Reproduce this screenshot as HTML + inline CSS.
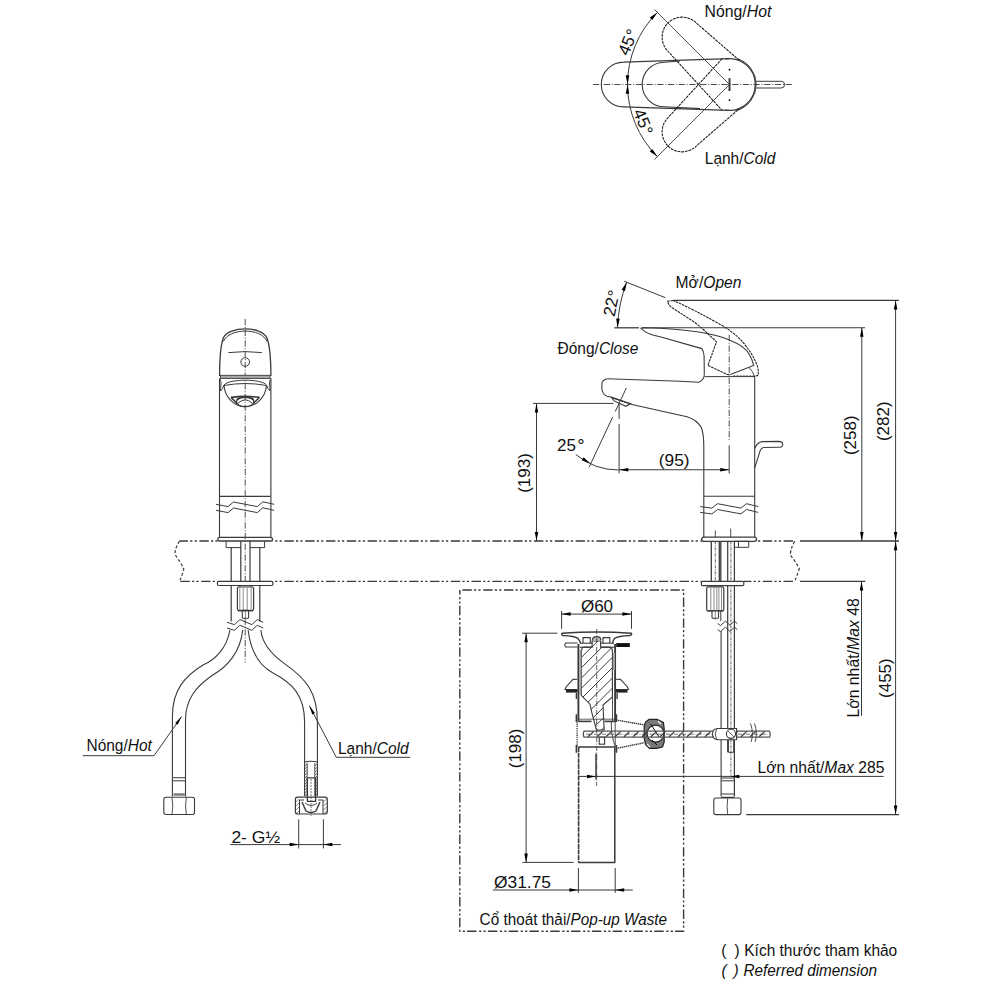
<!DOCTYPE html>
<html><head><meta charset="utf-8"><style>
html,body{margin:0;padding:0;background:#fff;}
svg{display:block;font-family:"Liberation Sans",sans-serif;}
text{fill:#111;}
</style></head><body>
<svg width="1000" height="982" viewBox="0 0 1000 982">
<line x1="593" y1="84.5" x2="792" y2="84.5" stroke="#3a3a3a" stroke-width="0.9" stroke-dasharray="6.3 1.7 1 1.7"/>
<path d="M729,58.6 L623.7,62.1 A22.3,22.3 0 0 0 623.7,106.9 L729,110.4" fill="none" stroke="#3a3a3a" stroke-width="1.1" />
<path d="M680,61 L664.5,62.2 A22.3,22.3 0 0 0 664.5,106.8 L700,108.6" fill="none" stroke="#3a3a3a" stroke-width="1.1" />
<path d="M725.5,58.9 A25.9,25.9 0 1 1 725.5,110.1" fill="none" stroke="#3a3a3a" stroke-width="1.3" />
<path d="M737,58.5 A27.2,27.2 0 0 1 737,110.5" fill="none" stroke="#3a3a3a" stroke-width="0.9" />
<path d="M739.4,60.46 L696.27,22.98 A20,20 0 0 0 667.98,51.27 L722.08,110.31" fill="none" stroke="#1a1a1a" stroke-width="1.05" stroke-dasharray="2.8 0.8" />
<path d="M722.08,58.69 L667.98,117.73 A20,20 0 0 0 696.27,146.02 L739.4,108.54" fill="none" stroke="#1a1a1a" stroke-width="1.05" stroke-dasharray="2.8 0.8" />
<line x1="729.5" y1="84.5" x2="654.5" y2="9.5" stroke="#3a3a3a" stroke-width="0.9"/>
<line x1="729.5" y1="84.5" x2="654.5" y2="159.5" stroke="#3a3a3a" stroke-width="0.9"/>
<path d="M657.38,12.38 A102.0,102.0 0 0 0 657.38,156.62" fill="none" stroke="#3a3a3a" stroke-width="1" />
<path d="M657.38,12.38 L652.28,20.01 L649.74,17.47 Z" fill="#000" stroke="none"/>
<path d="M657.38,156.62 L649.74,151.53 L652.28,148.99 Z" fill="#000" stroke="none"/>
<path d="M627.5,84.3 L625.7,75.3 L629.3,75.3 Z" fill="#000" stroke="none"/>
<path d="M627.5,84.7 L629.3,93.7 L625.7,93.7 Z" fill="#000" stroke="none"/>
<path d="M755.5,81.3 L781.2,81.3 Q784.6,81.3 784.6,84.6 Q784.6,88 781.2,88 L755.5,88" fill="none" stroke="#3a3a3a" stroke-width="1" />
<circle cx="729.5" cy="69.7" r="0.9" fill="#000"/>
<circle cx="729.5" cy="100.2" r="0.9" fill="#000"/>
<line x1="729.5" y1="78.2" x2="729.5" y2="91" stroke="#3a3a3a" stroke-width="2"/>
<text x="0" y="0" font-size="17" text-anchor="start" transform="translate(704.6 17.1) scale(0.93 1)" >Nóng/<tspan font-style="italic">Hot</tspan></text>
<text x="0" y="0" font-size="17" text-anchor="start" transform="translate(704.8 164.1) scale(0.91 1)" >Lạnh/<tspan font-style="italic">Cold</tspan></text>
<text x="628.2" y="42.2" font-size="17" text-anchor="middle" transform="rotate(-67.5 628.2 42.2)" dominant-baseline="central">45<tspan dx="0.8">°</tspan></text>
<text x="643" y="122" font-size="17" text-anchor="middle" transform="rotate(67.5 643 122)" dominant-baseline="central">45<tspan dx="0.8">°</tspan></text>
<line x1="245.2" y1="319" x2="245.2" y2="662.6" stroke="#3a3a3a" stroke-width="0.9" stroke-dasharray="6.3 1.7 1 1.7"/>
<path d="M219.6,376 C219.6,360 220.5,345 223.5,337.5 C229,326 261,326 266.8,337.5 C269.8,345 270.9,360 270.9,376" fill="none" stroke="#3a3a3a" stroke-width="1.3" />
<path d="M223.4,341.5 C229,327.6 261.5,327.6 267,341.5" fill="none" stroke="#3a3a3a" stroke-width="1" />
<path d="M228.4,352.6 Q245.2,350.6 261.9,352.6" fill="none" stroke="#3a3a3a" stroke-width="1" />
<circle cx="245.2" cy="362" r="4.3" fill="none" stroke="#3a3a3a" stroke-width="1"/>
<rect x="220.5" y="375.3" width="49.5" height="3.1" fill="#a8a8a8" stroke="#3a3a3a" stroke-width="0.9"/>
<line x1="219.5" y1="378.5" x2="219.5" y2="537.3" stroke="#3a3a3a" stroke-width="1.1"/>
<line x1="270.9" y1="378.5" x2="270.9" y2="537.3" stroke="#3a3a3a" stroke-width="1.1"/>
<path d="M219.5,378.5 Q221.5,381 221,384 L220.5,391 Q223,389 224,385 C229,378.6 261.5,378.6 266.5,385 Q267.5,389 270,391 L269.6,384 Q269.2,381 270.9,378.5" fill="none" stroke="#3a3a3a" stroke-width="1" />
<path d="M224,385.5 Q245.2,381.5 266.5,385.5" fill="none" stroke="#3a3a3a" stroke-width="1" />
<path d="M224,385.5 C225,398 235,406.7 245.2,406.7 C255.4,406.7 265.5,398 266.5,385.5" fill="none" stroke="#3a3a3a" stroke-width="1.1" />
<path d="M231,397.4 Q245.2,395.4 259.4,397.4" fill="none" stroke="#3a3a3a" stroke-width="1.6" />
<path d="M231,397.4 L237.2,403.6 M259.4,397.4 L253.2,403.6" fill="none" stroke="#3a3a3a" stroke-width="1.5" />
<ellipse cx="245.2" cy="401.7" rx="8.7" ry="5" fill="none" stroke="#3a3a3a" stroke-width="1.3"/>
<path d="M236.8,399.6 Q245.2,394.6 253.6,399.6" fill="none" stroke="#3a3a3a" stroke-width="1.7" />
<path d="M238.2,403.1 Q245.2,396.6 252.2,403.1" fill="none" stroke="#3a3a3a" stroke-width="1" />
<line x1="219.5" y1="496.3" x2="270.6" y2="496.3" stroke="#3a3a3a" stroke-width="1.2"/>
<path d="M216,504.3 L228,506.6 L233.5,502 L257.3,506.6 L262.8,501.8 L274.2,504.3" fill="none" stroke="#3a3a3a" stroke-width="1" />
<path d="M216,510.3 L228,512.6 L233.5,508 L257.3,512.6 L262.8,507.8 L274.2,510.3" fill="none" stroke="#3a3a3a" stroke-width="1" />
<path d="M219.5,537.3 L270.6,537.3 Q272.6,537.6 272.6,539.3 Q272.6,541 270.6,541 L219.5,541 Q217.7,541 217.7,539.3 Q217.7,537.6 219.5,537.3 Z" fill="none" stroke="#3a3a3a" stroke-width="1.3" />
<path d="M226.1,541 L226.1,547.6 L240.8,547.6 M250,547.6 L264.6,547.6 L264.6,541" fill="none" stroke="#3a3a3a" stroke-width="1" />
<line x1="231.2" y1="547.6" x2="231.2" y2="621.5" stroke="#3a3a3a" stroke-width="1.2"/>
<line x1="259.8" y1="547.6" x2="259.8" y2="621.5" stroke="#3a3a3a" stroke-width="1.2"/>
<line x1="240.8" y1="541" x2="240.8" y2="586.5" stroke="#3a3a3a" stroke-width="1.2"/>
<line x1="250" y1="541" x2="250" y2="586.5" stroke="#3a3a3a" stroke-width="1.2"/>
<rect x="217.4" y="581.3" width="55.5" height="4.2" rx="1.2" fill="#fff" stroke="#3a3a3a" stroke-width="1.2"/>
<rect x="237.4" y="587" width="16.2" height="23.4" rx="1.3" fill="#fff" stroke="#3a3a3a" stroke-width="1.2"/>
<line x1="239.8" y1="588" x2="239.8" y2="609.5" stroke="#3a3a3a" stroke-width="0.6"/>
<line x1="243.2" y1="588" x2="243.2" y2="609.5" stroke="#3a3a3a" stroke-width="0.6"/>
<line x1="247.2" y1="588" x2="247.2" y2="609.5" stroke="#3a3a3a" stroke-width="0.6"/>
<line x1="251.2" y1="588" x2="251.2" y2="609.5" stroke="#3a3a3a" stroke-width="0.6"/>
<path d="M239,587 L239,585.5 M252,587 L252,585.5" fill="none" stroke="#3a3a3a" stroke-width="0.8" />
<rect x="242.3" y="610.4" width="6.3" height="7.8" rx="0.8" fill="#fff" stroke="#3a3a3a" stroke-width="1.1"/>
<line x1="245.4" y1="610.4" x2="245.4" y2="618.2" stroke="#3a3a3a" stroke-width="0.6"/>
<line x1="238" y1="610.8" x2="253" y2="610.8" stroke="#3a3a3a" stroke-width="1.3"/>
<path d="M227,622.3 L234.4,624.6 L239.9,619.6 L251.8,624.6 L257.3,619.6 L263.2,622.3" fill="none" stroke="#3a3a3a" stroke-width="1" />
<path d="M227,628 L234.4,630.3 L239.9,625.3 L251.8,630.3 L257.3,625.3 L263.2,628" fill="none" stroke="#3a3a3a" stroke-width="1" />
<path d="M229.9,630 C227,648 215,660 203,665 C185,676 172.4,690 172.4,716 L172.4,796.5" fill="none" stroke="#3a3a3a" stroke-width="1.1" />
<path d="M242.7,630 C240.5,652 227,667 213.5,674.5 C195,687 185.5,700 185.5,720 L185.5,796.5" fill="none" stroke="#3a3a3a" stroke-width="1.1" />
<path d="M248.1,630 C251,654 262,667 272.6,672.8 C292,683 304.6,695 304.6,722 L304.6,762" fill="none" stroke="#3a3a3a" stroke-width="1.1" />
<path d="M260.9,630 C262,645 275,657 285.8,664.6 C306,679 317.4,692 317.4,722 L317.4,762" fill="none" stroke="#3a3a3a" stroke-width="1.1" />
<path d="M172.75,777.7 L185.5,777.7 M172.75,780.8 L185.5,780.8" fill="none" stroke="#3a3a3a" stroke-width="1" />
<rect x="173.6" y="793.3" width="11.2" height="2.4" fill="#777" stroke="none"/>
<path d="M166,797.3 L192.3,797.3 Q194.5,797.3 194.5,799.5 L194.5,812.3 Q194.5,814.5 192.3,814.5 L166,814.5 Q163.8,814.5 163.8,812.3 L163.8,799.5 Q163.8,797.3 166,797.3 Z" fill="none" stroke="#3a3a3a" stroke-width="1.1" />
<path d="M172,797.5 Q173.5,806 172,814.3 M186.3,797.5 Q184.8,806 186.3,814.3" fill="none" stroke="#3a3a3a" stroke-width="0.9" />
<path d="M304.6,762 Q311,760.6 317.4,762" fill="none" stroke="#3a3a3a" stroke-width="1.1" />
<path d="M304.6,762 L304.6,796 M317.4,762 L317.4,796" fill="none" stroke="#3a3a3a" stroke-width="1.1" />
<path d="M307.2,763 L307.2,796 M314.8,763 L314.8,796" fill="none" stroke="#3a3a3a" stroke-width="0.9" />
<line x1="304.8" y1="766" x2="307" y2="764" stroke="#3a3a3a" stroke-width="0.7"/>
<line x1="315" y1="766" x2="317.2" y2="764" stroke="#3a3a3a" stroke-width="0.7"/>
<line x1="304.8" y1="769" x2="307" y2="767" stroke="#3a3a3a" stroke-width="0.7"/>
<line x1="315" y1="769" x2="317.2" y2="767" stroke="#3a3a3a" stroke-width="0.7"/>
<line x1="304.8" y1="772" x2="307" y2="770" stroke="#3a3a3a" stroke-width="0.7"/>
<line x1="315" y1="772" x2="317.2" y2="770" stroke="#3a3a3a" stroke-width="0.7"/>
<line x1="304.8" y1="775" x2="307" y2="773" stroke="#3a3a3a" stroke-width="0.7"/>
<line x1="315" y1="775" x2="317.2" y2="773" stroke="#3a3a3a" stroke-width="0.7"/>
<line x1="304.8" y1="778" x2="307" y2="776" stroke="#3a3a3a" stroke-width="0.7"/>
<line x1="315" y1="778" x2="317.2" y2="776" stroke="#3a3a3a" stroke-width="0.7"/>
<line x1="304.8" y1="781" x2="307" y2="779" stroke="#3a3a3a" stroke-width="0.7"/>
<line x1="315" y1="781" x2="317.2" y2="779" stroke="#3a3a3a" stroke-width="0.7"/>
<line x1="304.8" y1="784" x2="307" y2="782" stroke="#3a3a3a" stroke-width="0.7"/>
<line x1="315" y1="784" x2="317.2" y2="782" stroke="#3a3a3a" stroke-width="0.7"/>
<line x1="304.8" y1="787" x2="307" y2="785" stroke="#3a3a3a" stroke-width="0.7"/>
<line x1="315" y1="787" x2="317.2" y2="785" stroke="#3a3a3a" stroke-width="0.7"/>
<line x1="304.8" y1="790" x2="307" y2="788" stroke="#3a3a3a" stroke-width="0.7"/>
<line x1="315" y1="790" x2="317.2" y2="788" stroke="#3a3a3a" stroke-width="0.7"/>
<line x1="304.8" y1="793" x2="307" y2="791" stroke="#3a3a3a" stroke-width="0.7"/>
<line x1="315" y1="793" x2="317.2" y2="791" stroke="#3a3a3a" stroke-width="0.7"/>
<line x1="304.8" y1="796" x2="307" y2="794" stroke="#3a3a3a" stroke-width="0.7"/>
<line x1="315" y1="796" x2="317.2" y2="794" stroke="#3a3a3a" stroke-width="0.7"/>
<path d="M307.4,777.8 L315.6,777.8 L315.6,801.3 L307.4,801.3 Z" fill="none" stroke="#3a3a3a" stroke-width="1.3" />
<line x1="311" y1="779" x2="311" y2="816" stroke="#3a3a3a" stroke-width="0.7" stroke-dasharray="2 1"/>
<path d="M297.5,797.2 L325,797.2 Q327.3,797.2 327.3,799.5 L327.3,811.8 Q327.3,814 325,814 L297.6,814 Q295.4,814 295.4,811.8 L295.4,799.5 Q295.4,797.2 297.5,797.2 Z" fill="none" stroke="#3a3a3a" stroke-width="1.2" />
<path d="M299.5,814 L299.5,800 L304,800 M318,800 L323,800 L323,814" fill="none" stroke="#3a3a3a" stroke-width="1" />
<path d="M302,802 L306,811 Q311,814 316,811 L320,802" fill="none" stroke="#3a3a3a" stroke-width="1.4" />
<path d="M305,803 Q311,808 317,803" fill="none" stroke="#3a3a3a" stroke-width="0.9" />
<line x1="295.8" y1="802" x2="299" y2="799" stroke="#3a3a3a" stroke-width="0.6"/>
<line x1="323.2" y1="802" x2="326.8" y2="799" stroke="#3a3a3a" stroke-width="0.6"/>
<line x1="295.8" y1="806" x2="299" y2="803" stroke="#3a3a3a" stroke-width="0.6"/>
<line x1="323.2" y1="806" x2="326.8" y2="803" stroke="#3a3a3a" stroke-width="0.6"/>
<line x1="295.8" y1="810" x2="299" y2="807" stroke="#3a3a3a" stroke-width="0.6"/>
<line x1="323.2" y1="810" x2="326.8" y2="807" stroke="#3a3a3a" stroke-width="0.6"/>
<line x1="295.8" y1="814" x2="299" y2="811" stroke="#3a3a3a" stroke-width="0.6"/>
<line x1="323.2" y1="814" x2="326.8" y2="811" stroke="#3a3a3a" stroke-width="0.6"/>
<path d="M82.75,755.7 L154,755.7 L181.6,716.6" fill="none" stroke="#3a3a3a" stroke-width="1" />
<path d="M181.6,716.6 L177.64,724.82 L175.18,723.09 Z" fill="#000" stroke="none"/>
<path d="M410.3,757.3 L336.3,757.3 L309.4,705.8" fill="none" stroke="#3a3a3a" stroke-width="1" />
<path d="M309.4,705.8 L314.9,713.08 L312.24,714.47 Z" fill="#000" stroke="none"/>
<text x="0" y="0" font-size="17" text-anchor="start" transform="translate(86.5 750.8) scale(0.91 1)" >Nóng/<tspan font-style="italic">Hot</tspan></text>
<text x="0" y="0" font-size="17" text-anchor="start" transform="translate(338 753.6) scale(0.91 1)" >Lạnh/<tspan font-style="italic">Cold</tspan></text>
<line x1="298.7" y1="819.3" x2="298.7" y2="848.5" stroke="#3a3a3a" stroke-width="1"/>
<line x1="323.4" y1="819.3" x2="323.4" y2="848.5" stroke="#3a3a3a" stroke-width="1"/>
<line x1="230.4" y1="844.6" x2="341" y2="844.6" stroke="#3a3a3a" stroke-width="1"/>
<path d="M298.7,844.6 L289.7,846.35 L289.7,842.85 Z" fill="#000" stroke="none"/>
<path d="M323.4,844.6 L332.4,842.85 L332.4,846.35 Z" fill="#000" stroke="none"/>
<text x="0" y="0" font-size="15.9" text-anchor="start" transform="translate(231.4 843) scale(1.1 1)" >2- G½</text>
<rect x="459.8" y="590" width="223.8" height="341.3" fill="none" stroke="#3a3a3a" stroke-width="1.4" stroke-dasharray="9.4 2.2 2.2 2.2 2.2 2.6" stroke-dashoffset="-2.6"/>
<line x1="561.6" y1="611" x2="561.6" y2="628.8" stroke="#3a3a3a" stroke-width="1"/>
<line x1="631.5" y1="611" x2="631.5" y2="628.8" stroke="#3a3a3a" stroke-width="1"/>
<line x1="561.6" y1="614.1" x2="631.5" y2="614.1" stroke="#3a3a3a" stroke-width="1"/>
<path d="M561.7,614.1 L570.7,612.35 L570.7,615.85 Z" fill="#000" stroke="none"/>
<path d="M631.4,614.1 L622.4,615.85 L622.4,612.35 Z" fill="#000" stroke="none"/>
<text x="597" y="611.7" font-size="17" text-anchor="middle" >Ø60</text>
<line x1="522.1" y1="633.2" x2="557.5" y2="633.2" stroke="#3a3a3a" stroke-width="1"/>
<line x1="526.1" y1="633.2" x2="526.1" y2="862.4" stroke="#3a3a3a" stroke-width="1"/>
<path d="M526.1,633.2 L527.85,642.2 L524.35,642.2 Z" fill="#000" stroke="none"/>
<path d="M526.1,862.4 L524.35,853.4 L527.85,853.4 Z" fill="#000" stroke="none"/>
<line x1="522.4" y1="862.4" x2="573.6" y2="862.4" stroke="#3a3a3a" stroke-width="1"/>
<text x="515.3" y="748.4" font-size="17" text-anchor="middle" transform="rotate(-90 515.3 748.4)" dominant-baseline="central">(198)</text>
<clipPath id="plugclip"><path d="M582,648.6 Q582,647.1 584,647.1 L592.1,647.1 L592.1,641 L600.6,641 L600.6,647.1 L610,647.1 Q612.4,648 612.4,651 L612.4,697 L603,705 L604.2,730 L596.4,730 L591.7,712.1 L590,704.2 L581.4,695.6 L581.4,651 Z"/></clipPath>
<path d="M582,648.6 Q582,647.1 584,647.1 L592.1,647.1 L592.1,641 L600.6,641 L600.6,647.1 L610,647.1 Q612.4,648 612.4,651 L612.4,697 L603,705 L604.2,730 L596.4,730 L591.7,712.1 L590,704.2 L581.4,695.6 L581.4,651 Z" fill="none" stroke="#3a3a3a" stroke-width="1.1" />
<g clip-path="url(#plugclip)"><path d="M570,586.4 L640,516.4 M570,596.7 L640,526.7 M570,607 L640,537 M570,617.3 L640,547.3 M570,627.6 L640,557.6 M570,637.9 L640,567.9 M570,648.2 L640,578.2 M570,658.5 L640,588.5 M570,668.8 L640,598.8 M570,679.1 L640,609.1 M570,689.4 L640,619.4 M570,699.7 L640,629.7 M570,710 L640,640 M570,720.3 L640,650.3 M570,730.6 L640,660.6 M570,740.9 L640,670.9 M570,751.2 L640,681.2 M570,761.5 L640,691.5 M570,771.8 L640,701.8 M570,782.1 L640,712.1 M570,792.4 L640,722.4 M570,802.7 L640,732.7 M570,813 L640,743 M570,823.3 L640,753.3 M570,833.6 L640,763.6 M570,843.9 L640,773.9 M570,854.2 L640,784.2 M570,864.5 L640,794.5" fill="none" stroke="#3a3a3a" stroke-width="1" /></g>
<path d="M562,633.2 Q596.7,630.8 631.3,633.2 Q632.5,634.5 630,635.5 Q618,636 614.5,638.4 Q613,640 612.5,643 M562,633.2 Q560.8,634.5 563,635.5 Q575,636 578,638.4 Q579.5,640 580.5,643" fill="none" stroke="#3a3a3a" stroke-width="1.4" />
<path d="M583,643 L583,637.6 L590.3,637.6 L590.3,643 M603,643 L603,637.6 L609.8,637.6 L609.8,643" fill="none" stroke="#3a3a3a" stroke-width="1.1" />
<path d="M592.4,640.5 Q592.4,636.7 596.7,636.7 Q600.9,636.7 600.9,640.5" fill="#bbb" stroke="#3a3a3a" stroke-width="1.2" />
<line x1="579.7" y1="643.2" x2="592.4" y2="643.2" stroke="#3a3a3a" stroke-width="1.1"/>
<line x1="579.7" y1="647.3" x2="592.4" y2="647.3" stroke="#3a3a3a" stroke-width="1.1"/>
<line x1="600.6" y1="643.2" x2="614" y2="643.2" stroke="#3a3a3a" stroke-width="1.1"/>
<line x1="600.6" y1="647.3" x2="614" y2="647.3" stroke="#3a3a3a" stroke-width="1.1"/>
<path d="M577.5,643 L565.5,643 Q564,645 565.5,647 L577.5,647" fill="none" stroke="#3a3a3a" stroke-width="1.1" />
<rect x="616.2" y="643.1" width="13.6" height="3.9" fill="#111"/>
<line x1="578.4" y1="644" x2="578.4" y2="721.4" stroke="#3a3a3a" stroke-width="1.9"/>
<line x1="615.1" y1="644" x2="615.1" y2="721.4" stroke="#3a3a3a" stroke-width="1.9"/>
<rect x="579.4" y="650" width="2" height="45" fill="#a0a0a0"/>
<rect x="612.8" y="652.8" width="2.2" height="17.2" fill="#a0a0a0"/>
<line x1="612.5" y1="670" x2="612.5" y2="722" stroke="#3a3a3a" stroke-width="0.9"/>
<path d="M577.5,679.2 L573,679.4 L566,687 L565,689.5 L577.5,689.5" fill="none" stroke="#3a3a3a" stroke-width="1.1" />
<path d="M616,679.2 L620.5,679.4 L627.5,687 L628.5,689.5 L616,689.5" fill="none" stroke="#3a3a3a" stroke-width="1.1" />
<rect x="566" y="689.6" width="11.5" height="3" fill="#222"/>
<rect x="616" y="689.6" width="11.5" height="3" fill="#222"/>
<path d="M576.4,693 L576.4,699 M617.1,693 L617.1,699" fill="none" stroke="#3a3a3a" stroke-width="1.4" />
<line x1="596.7" y1="629" x2="596.7" y2="786" stroke="#3a3a3a" stroke-width="0.8" stroke-dasharray="5 1.5 1 1.5"/>
<line x1="578.5" y1="719.2" x2="615.2" y2="719.2" stroke="#3a3a3a" stroke-width="0.8"/>
<line x1="578.5" y1="721.4" x2="591.5" y2="721.4" stroke="#3a3a3a" stroke-width="1.6"/>
<line x1="604.5" y1="721.4" x2="615.2" y2="721.4" stroke="#3a3a3a" stroke-width="1.6"/>
<line x1="577.1" y1="721.4" x2="577.1" y2="747" stroke="#3a3a3a" stroke-width="1.3" stroke-dasharray="1.3 0.9"/>
<path d="M611.3,721.4 Q611,735 614.9,745.6" fill="none" stroke="#3a3a3a" stroke-width="0.9" />
<line x1="615.2" y1="721.4" x2="615.2" y2="747" stroke="#3a3a3a" stroke-width="0.9"/>
<path d="M576.4,714.3 L576.4,722 M616.4,714.3 L616.4,722 M576.4,745 L576.4,752.7 M616.4,745 L616.4,752.7" fill="none" stroke="#3a3a3a" stroke-width="1.6" />
<line x1="578.5" y1="747" x2="615.2" y2="747" stroke="#3a3a3a" stroke-width="1.5"/>
<path d="M649,719.4 L657,719.4 L663.4,722.5 L664.2,729 L664.2,742 L662.5,747 L656.5,748.3 L649.5,748.3 L645.5,744.5 L644.2,738 L644.2,726 L645.5,722 Z M664,733.6 A8.5,8.5 0 1 0 647,733.6 A8.5,8.5 0 1 0 664,733.6 Z" fill="#7a7a7a" fill-rule="evenodd" stroke="#222" stroke-width="1.2"/>
<path d="M650.5,723.6 L659,737 M652,740 L657,745" fill="none" stroke="#111" stroke-width="1" />
<path d="M658,721 L661,724 M647,744 L650,747" fill="none" stroke="#fff" stroke-width="1.2" />
<path d="M584,731.2 L769.5,731.2 Q771,734.2 769.5,737.2 L584,737.2 Q582.6,734.2 584,731.2 Z" fill="none" stroke="#555" stroke-width="1.3" />
<line x1="588" y1="736.8" x2="593.5" y2="731.6" stroke="#3a3a3a" stroke-width="1.2"/>
<line x1="597" y1="736.8" x2="602.5" y2="731.6" stroke="#3a3a3a" stroke-width="1.2"/>
<line x1="606" y1="736.8" x2="611.5" y2="731.6" stroke="#3a3a3a" stroke-width="1.2"/>
<line x1="615" y1="736.8" x2="620.5" y2="731.6" stroke="#3a3a3a" stroke-width="1.2"/>
<line x1="624" y1="736.8" x2="629.5" y2="731.6" stroke="#3a3a3a" stroke-width="1.2"/>
<line x1="633" y1="736.8" x2="638.5" y2="731.6" stroke="#3a3a3a" stroke-width="1.2"/>
<line x1="642" y1="736.8" x2="647.5" y2="731.6" stroke="#3a3a3a" stroke-width="1.2"/>
<line x1="651" y1="736.8" x2="656.5" y2="731.6" stroke="#3a3a3a" stroke-width="1.2"/>
<line x1="660" y1="736.8" x2="665.5" y2="731.6" stroke="#3a3a3a" stroke-width="1.2"/>
<line x1="669" y1="736.8" x2="674.5" y2="731.6" stroke="#3a3a3a" stroke-width="1.2"/>
<line x1="678" y1="736.8" x2="683.5" y2="731.6" stroke="#3a3a3a" stroke-width="1.2"/>
<line x1="687" y1="736.8" x2="692.5" y2="731.6" stroke="#3a3a3a" stroke-width="1.2"/>
<line x1="696" y1="736.8" x2="701.5" y2="731.6" stroke="#3a3a3a" stroke-width="1.2"/>
<line x1="705" y1="736.8" x2="710.5" y2="731.6" stroke="#3a3a3a" stroke-width="1.2"/>
<line x1="714" y1="736.8" x2="719.5" y2="731.6" stroke="#3a3a3a" stroke-width="1.2"/>
<line x1="723" y1="736.8" x2="728.5" y2="731.6" stroke="#3a3a3a" stroke-width="1.2"/>
<line x1="732" y1="736.8" x2="737.5" y2="731.6" stroke="#3a3a3a" stroke-width="1.2"/>
<line x1="741" y1="736.8" x2="746.5" y2="731.6" stroke="#3a3a3a" stroke-width="1.2"/>
<line x1="750" y1="736.8" x2="755.5" y2="731.6" stroke="#3a3a3a" stroke-width="1.2"/>
<line x1="759" y1="736.8" x2="764.5" y2="731.6" stroke="#3a3a3a" stroke-width="1.2"/>
<line x1="586" y1="734.2" x2="768" y2="734.2" stroke="#3a3a3a" stroke-width="0.7" stroke-dasharray="4 1.5 1 1.5"/>
<rect x="599.2" y="737.2" width="5.4" height="7" fill="#fff" stroke="#3a3a3a" stroke-width="1.1"/>
<path d="M616,720 L644,724.8 M616,748.5 L644,742.8" fill="none" stroke="#3a3a3a" stroke-width="1.4" stroke-dasharray="1.4 0.6" />
<line x1="578.6" y1="747" x2="578.6" y2="862.4" stroke="#3a3a3a" stroke-width="1.6" stroke-dasharray="5 0.7"/>
<line x1="614.8" y1="747" x2="614.8" y2="862.4" stroke="#3a3a3a" stroke-width="1.5"/>
<line x1="578.4" y1="862.4" x2="615.2" y2="862.4" stroke="#3a3a3a" stroke-width="1.5"/>
<line x1="596" y1="753.6" x2="596" y2="779.4" stroke="#3a3a3a" stroke-width="1"/>
<line x1="578.4" y1="868" x2="578.4" y2="892.8" stroke="#3a3a3a" stroke-width="1"/>
<line x1="615.2" y1="868" x2="615.2" y2="892.8" stroke="#3a3a3a" stroke-width="1"/>
<line x1="492.8" y1="890" x2="632.8" y2="890" stroke="#3a3a3a" stroke-width="1.1"/>
<path d="M578.4,890 L569.4,891.75 L569.4,888.25 Z" fill="#000" stroke="none"/>
<path d="M615.2,890 L624.2,888.25 L624.2,891.75 Z" fill="#000" stroke="none"/>
<text x="494" y="887.6" font-size="17.4" text-anchor="start" >Ø31.75</text>
<text x="0" y="0" font-size="17" text-anchor="start" transform="translate(479.6 925) scale(0.9 1)" >Cổ thoát thải/<tspan font-style="italic">Pop-up Waste</tspan></text>
<line x1="179.5" y1="541" x2="217.7" y2="541" stroke="#3a3a3a" stroke-width="1.4" stroke-dasharray="9.4 2.2 2.2 2.2 2.2 2.6" stroke-dashoffset="0.9"/>
<line x1="272.6" y1="541" x2="701.8" y2="541" stroke="#3a3a3a" stroke-width="1.4" stroke-dasharray="9.4 2.2 2.2 2.2 2.2 2.6" stroke-dashoffset="9"/>
<line x1="756.4" y1="541" x2="795" y2="541" stroke="#3a3a3a" stroke-width="1.4" stroke-dasharray="9.4 2.2 2.2 2.2 2.2 2.6" stroke-dashoffset="14.4"/>
<line x1="800" y1="541" x2="899" y2="541" stroke="#3a3a3a" stroke-width="1.4"/>
<line x1="179.5" y1="581.4" x2="217.4" y2="581.4" stroke="#3a3a3a" stroke-width="1.4" stroke-dasharray="9.4 2.2 2.2 2.2 2.2 2.6" stroke-dashoffset="19.9"/>
<line x1="272.9" y1="581.4" x2="701.4" y2="581.4" stroke="#3a3a3a" stroke-width="1.4" stroke-dasharray="9.4 2.2 2.2 2.2 2.2 2.6" stroke-dashoffset="9.3"/>
<line x1="743.8" y1="581.4" x2="795" y2="581.4" stroke="#3a3a3a" stroke-width="1.4" stroke-dasharray="9.4 2.2 2.2 2.2 2.2 2.6" stroke-dashoffset="1.8"/>
<line x1="800" y1="581.4" x2="865.3" y2="581.4" stroke="#3a3a3a" stroke-width="1.2"/>
<path d="M179.5,541 Q173,552 176,556 Q181,563 183.8,569 Q182,576 179.5,581.4" fill="none" stroke="#3a3a3a" stroke-width="1.2" stroke-dasharray="3 2" />
<path d="M794.8,541 Q789,552 791,556 Q796,562 799.3,568.8 Q797,576 794.8,581.4" fill="none" stroke="#3a3a3a" stroke-width="1.2" stroke-dasharray="3 2" />
<path d="M607.5,378.8 L680,381.2 L698.7,382.2 Q704.3,380 704.3,374.5" fill="none" stroke="#3a3a3a" stroke-width="1.1" />
<path d="M607.5,378.8 Q601.9,380 601.9,384 L601.9,389.5 Q603,394.5 607,396.2 L611.6,397.2" fill="none" stroke="#3a3a3a" stroke-width="1.1" />
<path d="M611.6,397.4 L614.1,400.9 L625.8,406.3 L630.4,403.8 Z" fill="none" stroke="#3a3a3a" stroke-width="1.1" />
<line x1="611.6" y1="397.4" x2="630.4" y2="403.8" stroke="#3a3a3a" stroke-width="1.4"/>
<path d="M630.4,403.8 L632,404.6 L687,416.8 Q697,420 701.3,427.5 Q703.8,434 703.8,446 L703.8,537.1" fill="none" stroke="#3a3a3a" stroke-width="1.1" />
<line x1="754.7" y1="376.6" x2="754.7" y2="537.1" stroke="#3a3a3a" stroke-width="1.1"/>
<line x1="704.8" y1="376.6" x2="754.2" y2="376.6" stroke="#3a3a3a" stroke-width="1"/>
<line x1="733.3" y1="375.9" x2="753.7" y2="375.9" stroke="#3a3a3a" stroke-width="0.9" stroke-dasharray="2 1.2"/>
<path d="M641.9,329 Q639.5,327.9 643,327.7 L660,328.2 Q690,330 705.8,333.3 Q720,336 729.2,339.9 Q745,346 749,354 Q752.5,360 753.7,365.4 L730.3,374.5" fill="none" stroke="#3a3a3a" stroke-width="1.1" />
<path d="M641.9,329 Q646,334 660,336.8 L701.8,348.6 Q703.8,351 704.1,356 L704.3,374.5" fill="none" stroke="#3a3a3a" stroke-width="1.1" />
<path d="M749,367.4 Q753,371 754.5,376.6" fill="none" stroke="#3a3a3a" stroke-width="0.9" />
<path d="M673.2,300.5 Q695,310 724.2,326.7 Q740,337 746.6,347 Q754,356 757.8,367.4 Q758.8,373 757.8,375.5 L753.7,376.4" fill="none" stroke="#1a1a1a" stroke-width="1.05" stroke-dasharray="2.6 0.8" />
<path d="M673.2,300.5 L667.6,301.2 Q668,304 671,307 L693.6,321.6 Q702,328 707.9,333.8 L716.5,341.9 L707.9,365.4 L727.2,374.5 L730.3,374.5" fill="none" stroke="#1a1a1a" stroke-width="1.05" stroke-dasharray="2.6 0.8" />
<line x1="703.8" y1="496.2" x2="754.7" y2="496.2" stroke="#3a3a3a" stroke-width="1.1"/>
<path d="M700.2,506.6 L711.9,508.1 L717.5,503.7 L740.9,508.1 L746.5,503.7 L758.2,506.6" fill="none" stroke="#3a3a3a" stroke-width="1" />
<path d="M700.2,512.4 L711.9,513.9 L717.5,509.5 L740.9,513.9 L746.5,509.5 L758.2,512.4" fill="none" stroke="#3a3a3a" stroke-width="1" />
<path d="M754.7,448.5 Q757,442.2 762.5,441.6 L778.6,441.4 Q782.7,441.6 782.7,444.4 Q782.7,447.2 778.6,447.3 L763.5,447.5 Q761,448 760.2,450.6 L754.7,467.9" fill="none" stroke="#3a3a3a" stroke-width="1.1" />
<line x1="729.2" y1="334.8" x2="729.2" y2="440" stroke="#3a3a3a" stroke-width="0.9" stroke-dasharray="6.3 1.7 1 1.7"/>
<line x1="729.2" y1="445.3" x2="729.2" y2="473.6" stroke="#3a3a3a" stroke-width="1"/>
<path d="M703.8,537.1 L754.8,537.1 Q756.6,537.4 756.6,539.2 Q756.6,541.3 754.6,541.3 L703.6,541.3 Q701.6,541.3 701.6,539.2 Q701.6,537.4 703.8,537.1 Z" fill="none" stroke="#3a3a3a" stroke-width="1.3" />
<line x1="715.3" y1="530.5" x2="715.3" y2="537" stroke="#3a3a3a" stroke-width="0.9"/>
<line x1="730.7" y1="528.5" x2="730.7" y2="537" stroke="#3a3a3a" stroke-width="0.9"/>
<line x1="711.3" y1="541.3" x2="711.3" y2="581.3" stroke="#3a3a3a" stroke-width="1.3"/>
<line x1="719.3" y1="541.3" x2="719.3" y2="581.3" stroke="#3a3a3a" stroke-width="1.3"/>
<line x1="720.8" y1="541.3" x2="720.8" y2="581.3" stroke="#3a3a3a" stroke-width="1.3"/>
<line x1="715.3" y1="541.3" x2="715.3" y2="620" stroke="#3a3a3a" stroke-width="0.8" stroke-dasharray="3 1 1 1"/>
<line x1="727.7" y1="541.3" x2="727.7" y2="752.3" stroke="#3a3a3a" stroke-width="1.2"/>
<line x1="734.4" y1="541.3" x2="734.4" y2="796.5" stroke="#3a3a3a" stroke-width="1.2"/>
<line x1="730.9" y1="541.3" x2="730.9" y2="776" stroke="#3a3a3a" stroke-width="0.8" stroke-dasharray="3 1 1 1"/>
<path d="M734.4,541.3 L748.7,541.3 L748.7,547.3 L734.4,547.3 M738.5,541.3 L738.5,547.3" fill="none" stroke="#3a3a3a" stroke-width="1" />
<rect x="701.4" y="581.3" width="42.4" height="4.3" rx="1.2" fill="#fff" stroke="#3a3a3a" stroke-width="1.2"/>
<rect x="706.7" y="586.9" width="17.1" height="24.1" rx="1.6" fill="#fff" stroke="#3a3a3a" stroke-width="1.2"/>
<line x1="710.8" y1="588" x2="710.8" y2="610" stroke="#3a3a3a" stroke-width="0.6"/>
<line x1="714" y1="588" x2="714" y2="610" stroke="#3a3a3a" stroke-width="0.6"/>
<line x1="716.8" y1="588" x2="716.8" y2="610" stroke="#3a3a3a" stroke-width="0.6"/>
<line x1="718.9" y1="588" x2="718.9" y2="610" stroke="#3a3a3a" stroke-width="0.6"/>
<line x1="721.5" y1="588" x2="721.5" y2="610" stroke="#3a3a3a" stroke-width="0.6"/>
<line x1="707.5" y1="610.8" x2="723" y2="610.8" stroke="#3a3a3a" stroke-width="1.3"/>
<rect x="712" y="611" width="6.5" height="7.3" rx="0.8" fill="#fff" stroke="#3a3a3a" stroke-width="1.1"/>
<line x1="715.3" y1="611" x2="715.3" y2="618.3" stroke="#3a3a3a" stroke-width="0.6"/>
<line x1="720.8" y1="611" x2="720.8" y2="621" stroke="#3a3a3a" stroke-width="1"/>
<path d="M717.7,623.6 L720.5,625.6 L725.4,621.1 L729.9,625.2 L734.4,621.1 L737.3,623.6" fill="none" stroke="#3a3a3a" stroke-width="1" />
<path d="M717.7,629.7 L720.5,631.7 L725.4,627.2 L729.9,631.3 L734.4,627.2 L737.3,629.7" fill="none" stroke="#3a3a3a" stroke-width="1" />
<line x1="721.1" y1="631" x2="721.1" y2="796.5" stroke="#3a3a3a" stroke-width="1.1"/>
<path d="M728.4,739.7 L728.4,752.3 L733.7,752.3 L733.7,739.7" fill="none" stroke="#3a3a3a" stroke-width="1" />
<path d="M717.8,728.5 L736.6,728.5 L736.6,739.7 L717.8,739.7 Q712.5,739.7 712.5,734.1 Q712.5,728.5 717.8,728.5 Z" fill="#fff" stroke="#3a3a3a" stroke-width="1.1" />
<path d="M716.5,729 Q714,734 716.5,739.3" fill="none" stroke="#3a3a3a" stroke-width="0.9" />
<circle cx="731" cy="733.8" r="4.6" fill="#fff" stroke="#3a3a3a" stroke-width="1.1"/>
<line x1="728" y1="731" x2="734" y2="737" stroke="#3a3a3a" stroke-width="0.8"/>
<path d="M750.5,723.5 Q754,734 751,742 M754.5,723.5 Q758,734 755,742" fill="none" stroke="#3a3a3a" stroke-width="0.9" />
<path d="M721.1,778 L734.4,778 M721.1,780.8 L734.4,780.8" fill="none" stroke="#3a3a3a" stroke-width="1" />
<path d="M721.1,794 L734.4,794 M721.1,797.4 L734.4,797.4" fill="none" stroke="#3a3a3a" stroke-width="1.2" />
<path d="M715.8,798 L739,798 Q741,798 741,800 L741,812.6 Q741,814.6 739,814.6 L715.8,814.6 Q713.8,814.6 713.8,812.6 L713.8,800 Q713.8,798 715.8,798 Z" fill="none" stroke="#3a3a3a" stroke-width="1.1" />
<path d="M727.7,798.5 Q726.5,806 727.7,814.3" fill="none" stroke="#3a3a3a" stroke-width="0.9" />
<line x1="624.1" y1="281.2" x2="665.4" y2="297.7" stroke="#3a3a3a" stroke-width="1"/>
<line x1="614.4" y1="327.8" x2="638.9" y2="327.8" stroke="#3a3a3a" stroke-width="1.3"/>
<path d="M626.7,282.2 Q618.5,303 617.5,327.5" fill="none" stroke="#3a3a3a" stroke-width="1" />
<path d="M626.7,282.2 L624.93,291.21 L621.6,289.83 Z" fill="#000" stroke="none"/>
<path d="M617.5,327.6 L616.15,318.52 L619.75,318.7 Z" fill="#000" stroke="none"/>
<text x="611.8" y="303.2" font-size="17" text-anchor="middle" transform="rotate(-78 611.8 303.2)" dominant-baseline="central">22<tspan dx="0.8">°</tspan></text>
<line x1="673.2" y1="300.4" x2="898.8" y2="300.4" stroke="#3a3a3a" stroke-width="1.1"/>
<line x1="641.9" y1="327.8" x2="865" y2="327.8" stroke="#3a3a3a" stroke-width="1.1"/>
<line x1="861.8" y1="327.8" x2="861.8" y2="541" stroke="#3a3a3a" stroke-width="1"/>
<path d="M861.8,327.8 L863.55,336.8 L860.05,336.8 Z" fill="#000" stroke="none"/>
<path d="M861.8,541 L860.05,532 L863.55,532 Z" fill="#000" stroke="none"/>
<line x1="895.6" y1="300.4" x2="895.6" y2="814.6" stroke="#3a3a3a" stroke-width="1"/>
<path d="M895.6,300.4 L897.35,309.4 L893.85,309.4 Z" fill="#000" stroke="none"/>
<path d="M895.6,541 L893.85,532 L897.35,532 Z" fill="#000" stroke="none"/>
<path d="M895.6,541.2 L897.35,550.2 L893.85,550.2 Z" fill="#000" stroke="none"/>
<path d="M895.6,814.6 L893.85,805.6 L897.35,805.6 Z" fill="#000" stroke="none"/>
<text x="850.1" y="435.2" font-size="17" text-anchor="middle" transform="rotate(-90 850.1 435.2)" dominant-baseline="central">(258)</text>
<text x="884" y="421.2" font-size="17" text-anchor="middle" transform="rotate(-90 884 421.2)" dominant-baseline="central">(282)</text>
<text x="885.1" y="678.1" font-size="17" text-anchor="middle" transform="rotate(-90 885.1 678.1)" dominant-baseline="central">(455)</text>
<line x1="861.5" y1="581.4" x2="861.5" y2="715.8" stroke="#3a3a3a" stroke-width="1"/>
<path d="M861.5,581.6 L863.25,590.6 L859.75,590.6 Z" fill="#000" stroke="none"/>
<text x="0" y="0" font-size="17" text-anchor="start" transform="translate(858.8 717.5) rotate(-90) scale(0.93 1)" >Lớn nhất/<tspan font-style="italic">Max</tspan> 48</text>
<line x1="746.3" y1="814.6" x2="899" y2="814.6" stroke="#3a3a3a" stroke-width="1.1"/>
<line x1="578.6" y1="776.4" x2="883.7" y2="776.4" stroke="#3a3a3a" stroke-width="1"/>
<line x1="596" y1="753.6" x2="596" y2="779.4" stroke="#3a3a3a" stroke-width="1"/>
<path d="M596,776.4 L587,778.15 L587,774.65 Z" fill="#000" stroke="none"/>
<path d="M730.4,776.4 L739.4,774.65 L739.4,778.15 Z" fill="#000" stroke="none"/>
<text x="0" y="0" font-size="17" text-anchor="start" transform="translate(757.6 772.8) scale(0.92 1)" >Lớn nhất/<tspan font-style="italic">Max</tspan> 285</text>
<line x1="533" y1="403.4" x2="613.5" y2="403.4" stroke="#3a3a3a" stroke-width="1"/>
<line x1="536.5" y1="403.4" x2="536.5" y2="541" stroke="#3a3a3a" stroke-width="1"/>
<path d="M536.5,403.4 L538.25,412.4 L534.75,412.4 Z" fill="#000" stroke="none"/>
<path d="M536.5,541 L534.75,532 L538.25,532 Z" fill="#000" stroke="none"/>
<text x="524.8" y="473" font-size="17" text-anchor="middle" transform="rotate(-90 524.8 473)" dominant-baseline="central">(193)</text>
<line x1="619.1" y1="403.5" x2="619.1" y2="473.3" stroke="#3a3a3a" stroke-width="1" stroke-dasharray="15.4 5.2 100"/>
<line x1="626.3" y1="388" x2="589.1" y2="467.2" stroke="#3a3a3a" stroke-width="1" stroke-dasharray="26 6 200"/>
<path d="M575.8,454.5 A66.5,66.5 0 0 0 618.8,470" fill="none" stroke="#3a3a3a" stroke-width="1" />
<path d="M590.3,463.5 L581.74,460.2 L583.66,457.16 Z" fill="#000" stroke="none"/>
<text x="557" y="451.1" font-size="17" text-anchor="start" >25<tspan dx="1.3" font-size="18.5" dy="0.9">°</tspan></text>
<line x1="619.1" y1="469.8" x2="729.2" y2="469.8" stroke="#3a3a3a" stroke-width="1.1"/>
<path d="M619.3,469.8 L628.3,468.05 L628.3,471.55 Z" fill="#000" stroke="none"/>
<path d="M729.2,469.8 L720.2,471.55 L720.2,468.05 Z" fill="#000" stroke="none"/>
<text x="674.2" y="465.6" font-size="17.3" text-anchor="middle" >(95)</text>
<text x="0" y="0" font-size="17" text-anchor="start" transform="translate(675.6 288.2) scale(0.92 1)" >Mở/<tspan font-style="italic">Open</tspan></text>
<text x="0" y="0" font-size="17" text-anchor="start" transform="translate(557.6 353.8) scale(0.91 1)" >Đóng/<tspan font-style="italic">Close</tspan></text>
<text x="0" y="0" font-size="17" text-anchor="start" transform="translate(721.2 955.5) scale(0.91 1)" >(</text>
<text x="0" y="0" font-size="17" text-anchor="start" transform="translate(734.6 955.5) scale(0.91 1)" >)</text>
<text x="0" y="0" font-size="17" text-anchor="start" transform="translate(744.3 955.5) scale(0.91 1)" >Kích thước tham khảo</text>
<text x="0" y="0" font-size="17" text-anchor="start" transform="translate(721.5 975.5) scale(0.91 1)" font-style="italic">(</text>
<text x="0" y="0" font-size="17" text-anchor="start" transform="translate(733.5 975.5) scale(0.91 1)" font-style="italic">)</text>
<text x="0" y="0" font-size="17" text-anchor="start" transform="translate(743.5 975.5) scale(0.9 1)" font-style="italic">Referred dimension</text>
</svg></body></html>
